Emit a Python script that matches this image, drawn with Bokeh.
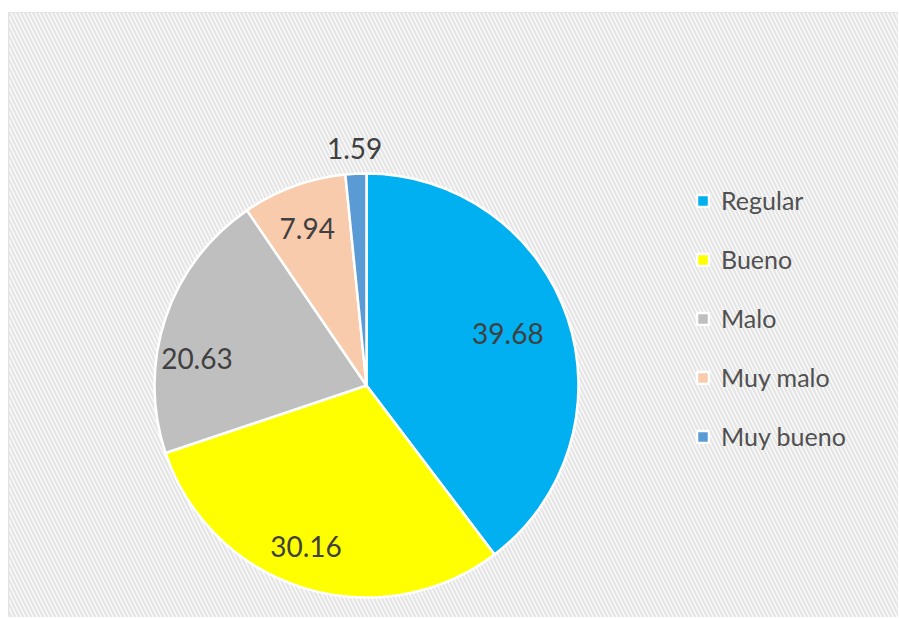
import math
from bokeh.plotting import figure
from bokeh.models import ColumnDataSource, Legend, LegendItem, BoxAnnotation, Range1d
from bokeh.core.properties import value
from bokeh.embed import file_html
from bokeh.resources import INLINE

# ---- data ----
categories = ["Regular", "Bueno", "Malo", "Muy malo", "Muy bueno"]
values = [39.68, 30.16, 20.63, 7.94, 1.59]
labels = ["39.68", "30.16", "20.63", "7.94", "1.59"]
colors = ["#00B0F0", "#FFFF00", "#BFBFBF", "#F8CBAD", "#5B9BD5"]

# ---- layout/style ----
W, H = 898, 617
LEFT, TOP = 8, 12
FW, FH = W - LEFT, H - TOP
CX, CY, R = 358, 232, 212
label_rf = [0.71, 0.81, 0.81, 0.79, 1.12]
label_shift_deg = [1.5, -3.5, 9.5, 0.7, 0.0]
FONT = "Lato"

total = sum(values)
starts, ends, lx, ly = [], [], [], []
cum = 0.0
for i, v in enumerate(values):
    a0 = math.pi / 2 - 2 * math.pi * cum / total
    cum += v
    a1 = math.pi / 2 - 2 * math.pi * cum / total
    starts.append(a1)
    ends.append(a0)
    mid = (a0 + a1) / 2 + math.radians(label_shift_deg[i])
    lx.append(CX + label_rf[i] * R * math.cos(mid))
    ly.append(CY + label_rf[i] * R * math.sin(mid))

src = ColumnDataSource(dict(cat=categories, val=values, start=starts, end=ends,
                            color=colors, lx=lx, ly=ly, lab=labels))

p = figure(width=W, height=H, output_backend="svg", toolbar_location=None,
           x_range=Range1d(0, FW), y_range=Range1d(0, FH),
           min_border_left=LEFT, min_border_right=0, min_border_bottom=0, min_border_top=TOP)
p.axis.visible = False
p.grid.visible = False
p.background_fill_color = "#fdfdfd"
p.border_fill_color = "white"
p.outline_line_color = "#d9d9d9"
p.outline_line_width = 1

bg = BoxAnnotation(left=0, right=FW, bottom=0, top=FH, fill_color="#fdfdfd", fill_alpha=1,
                   line_alpha=0, hatch_pattern="\\", hatch_color="#e6e6e6",
                   hatch_scale=8, hatch_weight=2.5, level="underlay")
p.add_layout(bg)

items = []
for i in range(len(values)):
    r = p.wedge(x=CX, y=CY, radius=R, start_angle=starts[i], end_angle=ends[i],
                fill_color=colors[i], line_color="white", line_width=2.5)
    items.append(LegendItem(label=categories[i], renderers=[r]))

p.text(x="lx", y="ly", text="lab", source=src, text_align="center",
       text_baseline="middle", text_font=value(FONT), text_font_size="28px",
       text_color="#404040")

legend = Legend(items=items, location=(677, 156), orientation="vertical",
                glyph_width=15, glyph_height=15, label_height=30, spacing=29,
                label_standoff=11, padding=10, margin=0,
                label_text_font=FONT, label_text_font_size="25px",
                label_text_color="#505050",
                background_fill_alpha=0, border_line_alpha=0)
p.add_layout(legend)

open("out.html", "w").write(file_html(p, INLINE))
